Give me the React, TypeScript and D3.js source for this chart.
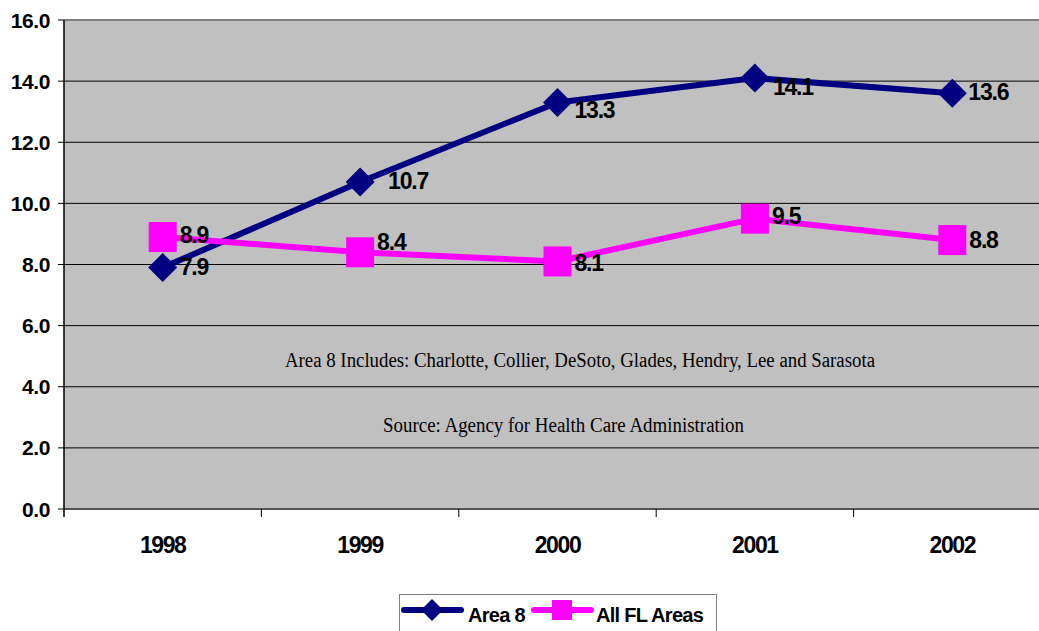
import React from "react";
import * as d3 from "d3";

const years = ["1998", "1999", "2000", "2001", "2002"];
const area8 = [7.9, 10.7, 13.3, 14.1, 13.6];
const allFL = [8.9, 8.4, 8.1, 9.5, 8.8];
const yTicks = [0, 2, 4, 6, 8, 10, 12, 14, 16];
const note1 = "Area 8 Includes: Charlotte, Collier, DeSoto, Glades, Hendry, Lee and Sarasota";
const note2 = "Source: Agency for Health Care Administration";
const legendLabels = ["Area 8", "All FL Areas"];

// label placement offsets (style only)
const area8LabelDx = [17, 28, 17, 18, 16];
const area8LabelDy = [7, 7, 15, 17, 7];
const flLabelDx = [17, 17, 17, 17, 17];
const flLabelDy = [6, -2, 10, 5, 8];

const W = 1039, H = 631;
const left = 64, top = 20, bottom = 509, right = 1051;
const navy = "#000080", pink = "#FF00FF";

export default function App() {
  const x = d3.scaleBand<string>().domain(years).range([left, right]);
  const y = d3.scaleLinear().domain([0, 16]).range([bottom, top]);
  const cx = (d: string) => (x(d) as number) + x.bandwidth() / 2;
  const line = d3.line<number>().x((_, i) => cx(years[i])).y((v) => y(v));
  const font = "Arial, 'Liberation Sans', sans-serif";
  const serif = "'Times New Roman', 'Liberation Serif', serif";
  const diamond = (px: number, py: number, r: number) =>
    `M${px},${py - r}L${px + r},${py}L${px},${py + r}L${px - r},${py}Z`;
  return (
    <svg width={W} height={H} style={{ position: "absolute", left: 0, top: 0 }}>
      <rect x={0} y={0} width={W} height={H} fill="#fff" />
      <rect x={left} y={top} width={right - left} height={bottom - top} fill="#C0C0C0" />
      {yTicks.map((t) => (
        <g key={t}>
          {t > 0 && t < 16 && (
            <line x1={left} x2={right} y1={y(t)} y2={y(t)} stroke="#000" strokeWidth={1} />
          )}
          <line x1={58} x2={left} y1={y(t)} y2={y(t)} stroke="#000" strokeWidth={1} />
          <text x={50} y={y(t)} dy="0.36em" textAnchor="end" fontFamily={font} fontWeight="bold" fontSize={21} letterSpacing={-0.4}>
            {t.toFixed(1)}
          </text>
        </g>
      ))}
      <line x1={left} x2={right} y1={top} y2={top} stroke="#808080" strokeWidth={2} />
      <line x1={left} x2={right} y1={bottom} y2={bottom} stroke="#555" strokeWidth={2} />
      <line x1={left} x2={left} y1={top} y2={bottom + 8} stroke="#000" strokeWidth={1.5} />
      {years.map((yr) => (
        <g key={yr}>
          <line x1={(x(yr) as number) + x.bandwidth()} x2={(x(yr) as number) + x.bandwidth()} y1={bottom} y2={bottom + 8} stroke="#000" strokeWidth={1} />
          <text x={cx(yr)} y={553} textAnchor="middle" fontFamily={font} fontWeight="bold" fontSize={23} letterSpacing={-1.4}>
            {yr}
          </text>
        </g>
      ))}
      <text x={580} y={367} textAnchor="middle" fontFamily={serif} fontSize={20.5} textLength={590} lengthAdjust="spacingAndGlyphs">
        {note1}
      </text>
      <text x={563.5} y={432} textAnchor="middle" fontFamily={serif} fontSize={20.5} textLength={361} lengthAdjust="spacingAndGlyphs">
        {note2}
      </text>
      <path d={line(area8) || ""} fill="none" stroke={navy} strokeWidth={6} strokeLinejoin="round" />
      <path d={line(allFL) || ""} fill="none" stroke={pink} strokeWidth={6} strokeLinejoin="round" />
      {area8.map((v, i) => (
        <path key={"a" + i} d={diamond(cx(years[i]), y(v), 14.5)} fill={navy} />
      ))}
      {allFL.map((v, i) => (
        <rect key={"f" + i} x={cx(years[i]) - 14} y={y(v) - 15} width={28} height={30} fill={pink} />
      ))}
      {area8.map((v, i) => (
        <text key={"la" + i} x={cx(years[i]) + area8LabelDx[i]} y={y(v) + area8LabelDy[i]} fontFamily={font} fontWeight="bold" fontSize={23} letterSpacing={-1.2}>
          {v.toFixed(1)}
        </text>
      ))}
      {allFL.map((v, i) => (
        <text key={"lf" + i} x={cx(years[i]) + flLabelDx[i]} y={y(v) + flLabelDy[i]} fontFamily={font} fontWeight="bold" fontSize={23} letterSpacing={-1.2}>
          {v.toFixed(1)}
        </text>
      ))}
      <rect x={399.5} y={594.5} width={317} height={45} fill="#fff" stroke="#808080" strokeWidth={1} />
      <line x1={404} x2={461} y1={610} y2={610} stroke={navy} strokeWidth={6} strokeLinecap="round" />
      <path d={diamond(432, 610, 11)} fill={navy} />
      <text x={468} y={622} fontFamily={font} fontWeight="bold" fontSize={20} letterSpacing={-0.7}>
        {legendLabels[0]}
      </text>
      <line x1={534} x2={591} y1={610} y2={610} stroke={pink} strokeWidth={6} strokeLinecap="round" />
      <rect x={552} y={600} width={20} height={20} fill={pink} />
      <text x={596} y={622} fontFamily={font} fontWeight="bold" fontSize={20} letterSpacing={-0.7}>
        {legendLabels[1]}
      </text>
    </svg>
  );
}
